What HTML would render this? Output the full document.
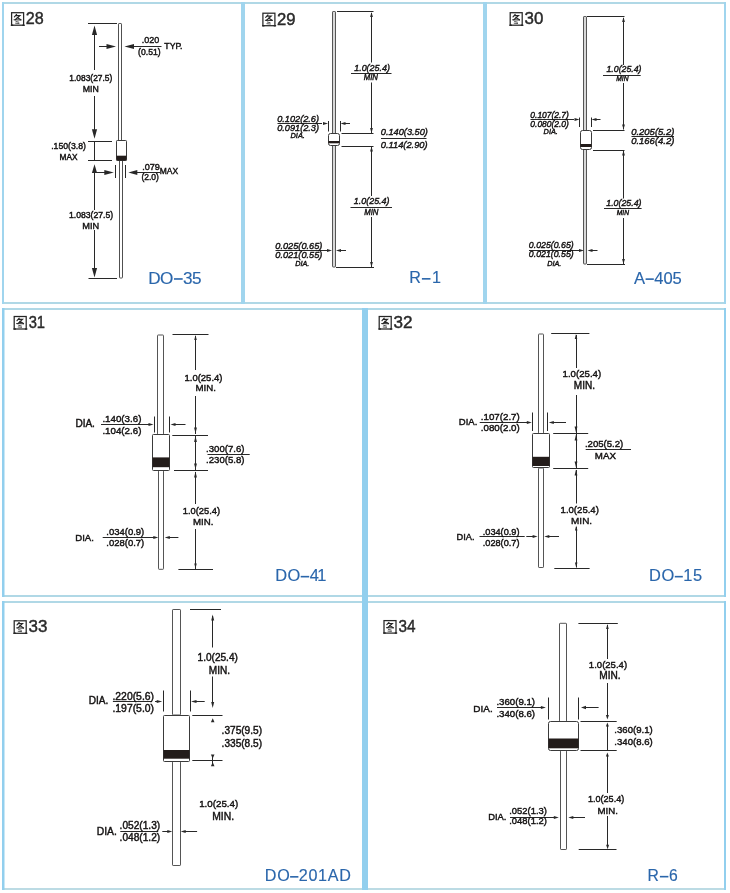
<!DOCTYPE html><html><head><meta charset="utf-8"><style>html,body{margin:0;padding:0;background:#fff;width:730px;height:893px;overflow:hidden}svg{display:block;font-family:"Liberation Sans",sans-serif;filter:blur(0.3px)}</style></head><body><svg width="730" height="893" viewBox="0 0 730 893" font-family="Liberation Sans, sans-serif">
<rect width="730" height="893" fill="#fff"/>
<rect x="2" y="2" width="724" height="2" fill="#b0d8e6"/>
<rect x="2" y="302" width="724" height="2" fill="#b0d8e6"/>
<rect x="2" y="2" width="2" height="302" fill="#a0d5ee"/>
<rect x="241" y="2" width="4" height="302" fill="#a0d5ee"/>
<rect x="483" y="2" width="4" height="302" fill="#a0d5ee"/>
<rect x="724" y="2" width="2" height="302" fill="#a0d5ee"/>
<rect x="2" y="308" width="724" height="2" fill="#b0d8e6"/>
<rect x="2" y="595" width="724" height="2" fill="#b0d8e6"/>
<rect x="2" y="308" width="2.5" height="289" fill="#92cfee"/>
<rect x="724" y="308" width="2" height="289" fill="#92cfee"/>
<rect x="2" y="601" width="724" height="2" fill="#b0d8e6"/>
<rect x="2" y="888" width="724" height="2" fill="#bcdbe4"/>
<rect x="2" y="601" width="2.5" height="289" fill="#92cfee"/>
<rect x="724" y="601" width="2" height="289" fill="#92cfee"/>
<rect x="362" y="308" width="6" height="582" fill="#92cfee"/>
<g transform="translate(11,12.2)" fill="none" stroke="#262626" stroke-linecap="round"><rect x="0.6" y="0.5" width="12" height="12.5" stroke-width="1.25"/><path d="M5.6 2.2 L3.4 4.6 M4.6 3.4 H8.9 L4.2 7.6 M6.1 5.3 L9.9 7.6" stroke-width="1.15"/><path d="M3 7.6 L10 7.8" stroke-width="1"/><path d="M5 9.3 L7.8 10 M4.6 11 L8 11.3" stroke-width="1" stroke="#555"/><path d="M0.4 13 h1.3 M11.9 13 h1.3" stroke-width="1.5"/></g>
<text x="25.79" y="24.30" font-size="16" textLength="17.91" lengthAdjust="spacingAndGlyphs" fill="#2a2a2a" stroke="#2a2a2a" stroke-width="0.42">28</text>
<rect x="118.5" y="23.5" width="3" height="118" fill="#fff" stroke="#505050" stroke-width="1" rx="0.6"/>
<rect x="119.5" y="159.5" width="3" height="118.5" fill="#fff" stroke="#505050" stroke-width="1" rx="0.6"/>
<rect x="116.5" y="140.5" width="10" height="20" fill="#fff" stroke="#3a3a3a" stroke-width="1" rx="0.8"/>
<rect x="116.5" y="155.7" width="10" height="4.800000000000011" fill="#231c1a"/>
<line x1="88" y1="23.5" x2="117" y2="23.5" stroke="#282828" stroke-width="1"/>
<line x1="94.5" y1="27" x2="94.5" y2="70" stroke="#282828" stroke-width="1"/>
<polygon points="94.50,25.50 91.90,35.00 97.10,35.00" fill="#282828"/>
<line x1="94.5" y1="96" x2="94.5" y2="131" stroke="#282828" stroke-width="1"/>
<polygon points="94.50,138.80 91.90,129.30 97.10,129.30" fill="#282828"/>
<line x1="88" y1="141.5" x2="112" y2="141.5" stroke="#282828" stroke-width="1"/>
<line x1="88" y1="160.5" x2="112" y2="160.5" stroke="#282828" stroke-width="1"/>
<line x1="94.5" y1="141.5" x2="94.5" y2="160.5" stroke="#282828" stroke-width="1"/>
<polygon points="94.50,164.30 91.90,173.10 97.10,173.10" fill="#282828"/>
<line x1="94.5" y1="170" x2="94.5" y2="210" stroke="#282828" stroke-width="1"/>
<line x1="94.5" y1="230" x2="94.5" y2="270" stroke="#282828" stroke-width="1"/>
<polygon points="94.50,277.50 91.90,268.00 97.10,268.00" fill="#282828"/>
<line x1="88.5" y1="278.5" x2="117" y2="278.5" stroke="#282828" stroke-width="1"/>
<line x1="94.5" y1="172.5" x2="106" y2="172.5" stroke="#282828" stroke-width="1"/>
<polygon points="113.80,172.50 104.30,169.90 104.30,175.10" fill="#282828"/>
<line x1="115.5" y1="165" x2="115.5" y2="178" stroke="#282828" stroke-width="1"/>
<line x1="125.5" y1="165" x2="125.5" y2="178" stroke="#282828" stroke-width="1"/>
<polygon points="128.30,172.50 137.30,169.90 137.30,175.10" fill="#282828"/>
<line x1="135" y1="172.5" x2="160" y2="172.5" stroke="#282828" stroke-width="1"/>
<line x1="99" y1="46.5" x2="108" y2="46.5" stroke="#282828" stroke-width="1"/>
<polygon points="116.00,46.50 106.50,43.90 106.50,49.10" fill="#282828"/>
<polygon points="124.50,46.50 134.00,43.90 134.00,49.10" fill="#282828"/>
<line x1="132" y1="46.5" x2="161.5" y2="46.5" stroke="#282828" stroke-width="1"/>
<text x="141.68" y="42.79" font-size="8.98" textLength="17.47" lengthAdjust="spacingAndGlyphs" fill="#141212" stroke="#141212" stroke-width="0.42">.020</text>
<text x="138.06" y="54.87" font-size="8.64" textLength="22.57" lengthAdjust="spacingAndGlyphs" fill="#141212" stroke="#141212" stroke-width="0.42">(0.51)</text>
<text x="164.32" y="48.62" font-size="8.2" textLength="18.23" lengthAdjust="spacingAndGlyphs" fill="#141212" stroke="#141212" stroke-width="0.42">TYP.</text>
<text x="69.36" y="80.99" font-size="8.4" textLength="42.96" lengthAdjust="spacingAndGlyphs" fill="#141212" stroke="#141212" stroke-width="0.42">1.083(27.5)</text>
<text x="82.68" y="92.01" font-size="8.75" textLength="16.03" lengthAdjust="spacingAndGlyphs" fill="#141212" stroke="#141212" stroke-width="0.42">MIN</text>
<text x="51.21" y="148.79" font-size="8.68" textLength="34.73" lengthAdjust="spacingAndGlyphs" fill="#141212" stroke="#141212" stroke-width="0.42">.150(3.8)</text>
<text x="59.52" y="160.05" font-size="8.29" textLength="17.95" lengthAdjust="spacingAndGlyphs" fill="#141212" stroke="#141212" stroke-width="0.42">MAX</text>
<text x="142.17" y="169.54" font-size="9.13" textLength="17.77" lengthAdjust="spacingAndGlyphs" fill="#141212" stroke="#141212" stroke-width="0.42">.079</text>
<text x="141.47" y="180.12" font-size="8.49" textLength="17.45" lengthAdjust="spacingAndGlyphs" fill="#141212" stroke="#141212" stroke-width="0.42">(2.0)</text>
<text x="159.80" y="173.92" font-size="8.48" textLength="18.37" lengthAdjust="spacingAndGlyphs" fill="#141212" stroke="#141212" stroke-width="0.42">MAX</text>
<text x="68.94" y="218.37" font-size="8.64" textLength="44.19" lengthAdjust="spacingAndGlyphs" fill="#141212" stroke="#141212" stroke-width="0.42">1.083(27.5)</text>
<text x="82.24" y="228.97" font-size="9.22" textLength="16.91" lengthAdjust="spacingAndGlyphs" fill="#141212" stroke="#141212" stroke-width="0.42">MIN</text>
<text x="148.22" y="283.50" font-size="17.14" textLength="25.18" lengthAdjust="spacing" fill="#2a66ab" stroke="#2a66ab" stroke-width="0.15">DO</text>
<text x="182.96" y="283.50" font-size="17.14" textLength="18.64" lengthAdjust="spacing" fill="#2a66ab" stroke="#2a66ab" stroke-width="0.15">35</text>
<rect x="174" y="278.17" width="8.70" height="1.6" fill="#2a66ab"/>
<g transform="translate(262.3,12.7)" fill="none" stroke="#262626" stroke-linecap="round"><rect x="0.6" y="0.5" width="12" height="12.5" stroke-width="1.25"/><path d="M5.6 2.2 L3.4 4.6 M4.6 3.4 H8.9 L4.2 7.6 M6.1 5.3 L9.9 7.6" stroke-width="1.15"/><path d="M3 7.6 L10 7.8" stroke-width="1"/><path d="M5 9.3 L7.8 10 M4.6 11 L8 11.3" stroke-width="1" stroke="#555"/><path d="M0.4 13 h1.3 M11.9 13 h1.3" stroke-width="1.5"/></g>
<text x="277.06" y="24.80" font-size="16" textLength="18.53" lengthAdjust="spacingAndGlyphs" fill="#2a2a2a" stroke="#2a2a2a" stroke-width="0.42">29</text>
<rect x="332.5" y="11.5" width="3" height="255.5" fill="#d8d8d8" stroke="#555" stroke-width="1" rx="0.6"/>
<rect x="328.5" y="133.5" width="11" height="12" fill="#fff" stroke="#3a3a3a" stroke-width="1" rx="2"/>
<rect x="328.5" y="141" width="11" height="2.3000000000000114" fill="#231c1a"/>
<line x1="337" y1="11.5" x2="373.5" y2="11.5" stroke="#282828" stroke-width="1"/>
<line x1="371.5" y1="13" x2="371.5" y2="62.5" stroke="#282828" stroke-width="1"/>
<line x1="371.5" y1="82.5" x2="371.5" y2="133" stroke="#282828" stroke-width="1"/>
<polygon points="371.50,12.00 370.10,17.00 372.90,17.00" fill="#282828"/>
<polygon points="371.50,133.00 370.10,128.00 372.90,128.00" fill="#282828"/>
<line x1="341.5" y1="133.5" x2="373.5" y2="133.5" stroke="#282828" stroke-width="1"/>
<line x1="341.5" y1="146.5" x2="373.5" y2="146.5" stroke="#282828" stroke-width="1"/>
<line x1="371.5" y1="147" x2="371.5" y2="196" stroke="#282828" stroke-width="1"/>
<line x1="371.5" y1="217" x2="371.5" y2="267" stroke="#282828" stroke-width="1"/>
<polygon points="371.50,146.50 370.10,151.50 372.90,151.50" fill="#282828"/>
<polygon points="371.50,267.00 370.10,262.00 372.90,262.00" fill="#282828"/>
<line x1="336" y1="267.5" x2="374" y2="267.5" stroke="#282828" stroke-width="1"/>
<line x1="277.5" y1="123.5" x2="322" y2="123.5" stroke="#282828" stroke-width="1"/>
<polygon points="328.00,123.50 323.00,122.00 323.00,125.00" fill="#282828"/>
<line x1="328.5" y1="121" x2="328.5" y2="131.5" stroke="#282828" stroke-width="1"/>
<line x1="340.5" y1="121" x2="340.5" y2="131.5" stroke="#282828" stroke-width="1"/>
<polygon points="340.50,123.50 345.50,122.00 345.50,125.00" fill="#282828"/>
<line x1="345" y1="123.5" x2="350" y2="123.5" stroke="#282828" stroke-width="1"/>
<line x1="275.5" y1="250.5" x2="327" y2="250.5" stroke="#282828" stroke-width="1"/>
<polygon points="332.00,250.50 327.00,249.00 327.00,252.00" fill="#282828"/>
<polygon points="336.00,250.50 341.00,249.00 341.00,252.00" fill="#282828"/>
<line x1="340" y1="250.5" x2="346" y2="250.5" stroke="#282828" stroke-width="1"/>
<line x1="381" y1="138.5" x2="426.5" y2="138.5" stroke="#282828" stroke-width="1"/>
<line x1="351" y1="73.5" x2="391.5" y2="73.5" stroke="#282828" stroke-width="1"/>
<line x1="350.5" y1="207.5" x2="392" y2="207.5" stroke="#282828" stroke-width="1"/>
<text x="354.17" y="70.84" font-size="9.41" textLength="35.87" lengthAdjust="spacingAndGlyphs" font-style="italic" fill="#141212" stroke="#141212" stroke-width="0.42">1.0(25.4)</text>
<text x="363.76" y="80.40" font-size="8.15" textLength="14.24" lengthAdjust="spacingAndGlyphs" font-style="italic" fill="#141212" stroke="#141212" stroke-width="0.42">MIN</text>
<text x="277.20" y="121.52" font-size="9.64" textLength="41.85" lengthAdjust="spacingAndGlyphs" font-style="italic" fill="#141212" stroke="#141212" stroke-width="0.42">0.102(2.6)</text>
<text x="277.20" y="131.12" font-size="9.64" textLength="41.85" lengthAdjust="spacingAndGlyphs" font-style="italic" fill="#141212" stroke="#141212" stroke-width="0.42">0.091(2.3)</text>
<text x="290.47" y="138.08" font-size="7.8" textLength="14.44" lengthAdjust="spacingAndGlyphs" font-style="italic" fill="#141212" stroke="#141212" stroke-width="0.42">DIA.</text>
<text x="380.80" y="134.72" font-size="9.66" textLength="47.05" lengthAdjust="spacingAndGlyphs" font-style="italic" fill="#141212" stroke="#141212" stroke-width="0.42">0.140(3.50)</text>
<text x="380.80" y="147.70" font-size="9.6" textLength="46.74" lengthAdjust="spacingAndGlyphs" font-style="italic" fill="#141212" stroke="#141212" stroke-width="0.42">0.114(2.90)</text>
<text x="353.77" y="204.43" font-size="9.38" textLength="35.76" lengthAdjust="spacingAndGlyphs" font-style="italic" fill="#141212" stroke="#141212" stroke-width="0.42">1.0(25.4)</text>
<text x="364.26" y="214.90" font-size="8.15" textLength="14.24" lengthAdjust="spacingAndGlyphs" font-style="italic" fill="#141212" stroke="#141212" stroke-width="0.42">MIN</text>
<text x="275.30" y="248.52" font-size="9.66" textLength="47.05" lengthAdjust="spacingAndGlyphs" font-style="italic" fill="#141212" stroke="#141212" stroke-width="0.42">0.025(0.65)</text>
<text x="275.30" y="257.62" font-size="9.66" textLength="47.05" lengthAdjust="spacingAndGlyphs" font-style="italic" fill="#141212" stroke="#141212" stroke-width="0.42">0.021(0.55)</text>
<text x="295.28" y="266.02" font-size="7.62" textLength="14.11" lengthAdjust="spacingAndGlyphs" font-style="italic" fill="#141212" stroke="#141212" stroke-width="0.42">DIA.</text>
<text x="409.27" y="283.10" font-size="16.14" textLength="11.68" lengthAdjust="spacing" fill="#2a66ab" stroke="#2a66ab" stroke-width="0.15">R</text>
<text x="432.12" y="283.10" font-size="16.14" textLength="5.68" lengthAdjust="spacing" fill="#2a66ab" stroke="#2a66ab" stroke-width="0.15">1</text>
<rect x="421.9" y="278.04" width="8.60" height="1.6" fill="#2a66ab"/>
<g transform="translate(509.6,12.2)" fill="none" stroke="#262626" stroke-linecap="round"><rect x="0.6" y="0.5" width="12" height="12.5" stroke-width="1.25"/><path d="M5.6 2.2 L3.4 4.6 M4.6 3.4 H8.9 L4.2 7.6 M6.1 5.3 L9.9 7.6" stroke-width="1.15"/><path d="M3 7.6 L10 7.8" stroke-width="1"/><path d="M5 9.3 L7.8 10 M4.6 11 L8 11.3" stroke-width="1" stroke="#555"/><path d="M0.4 13 h1.3 M11.9 13 h1.3" stroke-width="1.5"/></g>
<text x="524.56" y="24.30" font-size="16" textLength="18.80" lengthAdjust="spacingAndGlyphs" fill="#2a2a2a" stroke="#2a2a2a" stroke-width="0.42">30</text>
<rect x="583.5" y="16.5" width="3" height="247.5" fill="#d8d8d8" stroke="#555" stroke-width="1" rx="0.6"/>
<rect x="580.5" y="130.5" width="11" height="19" fill="#fff" stroke="#3a3a3a" stroke-width="1" rx="2"/>
<rect x="580.5" y="144" width="11" height="3" fill="#231c1a"/>
<line x1="587" y1="16.5" x2="624.5" y2="16.5" stroke="#282828" stroke-width="1"/>
<line x1="623.5" y1="18" x2="623.5" y2="65" stroke="#282828" stroke-width="1"/>
<line x1="623.5" y1="83" x2="623.5" y2="129.5" stroke="#282828" stroke-width="1"/>
<polygon points="623.50,17.00 622.10,22.00 624.90,22.00" fill="#282828"/>
<polygon points="623.50,129.50 622.10,124.50 624.90,124.50" fill="#282828"/>
<line x1="593" y1="130.5" x2="624.5" y2="130.5" stroke="#282828" stroke-width="1"/>
<line x1="593" y1="150.5" x2="624.5" y2="150.5" stroke="#282828" stroke-width="1"/>
<line x1="623.5" y1="151" x2="623.5" y2="198.5" stroke="#282828" stroke-width="1"/>
<line x1="623.5" y1="218" x2="623.5" y2="264" stroke="#282828" stroke-width="1"/>
<polygon points="623.50,150.50 622.10,155.50 624.90,155.50" fill="#282828"/>
<polygon points="623.50,264.00 622.10,259.00 624.90,259.00" fill="#282828"/>
<line x1="587" y1="264.5" x2="625" y2="264.5" stroke="#282828" stroke-width="1"/>
<line x1="530.5" y1="119.5" x2="574" y2="119.5" stroke="#282828" stroke-width="1"/>
<polygon points="579.50,119.50 574.50,118.00 574.50,121.00" fill="#282828"/>
<line x1="579.5" y1="117.5" x2="579.5" y2="127" stroke="#282828" stroke-width="1"/>
<line x1="591.5" y1="117.5" x2="591.5" y2="127" stroke="#282828" stroke-width="1"/>
<polygon points="591.50,119.50 596.50,118.00 596.50,121.00" fill="#282828"/>
<line x1="596" y1="119.5" x2="600.5" y2="119.5" stroke="#282828" stroke-width="1"/>
<line x1="529" y1="250.5" x2="579" y2="250.5" stroke="#282828" stroke-width="1"/>
<polygon points="584.00,250.50 579.00,249.00 579.00,252.00" fill="#282828"/>
<polygon points="587.50,250.50 592.50,249.00 592.50,252.00" fill="#282828"/>
<line x1="592" y1="250.5" x2="597.5" y2="250.5" stroke="#282828" stroke-width="1"/>
<line x1="631.5" y1="136.5" x2="674" y2="136.5" stroke="#282828" stroke-width="1"/>
<line x1="603" y1="75.5" x2="640.7" y2="75.5" stroke="#282828" stroke-width="1"/>
<line x1="604" y1="208.5" x2="641.6" y2="208.5" stroke="#282828" stroke-width="1"/>
<text x="606.47" y="72.26" font-size="9.19" textLength="35.05" lengthAdjust="spacingAndGlyphs" font-style="italic" fill="#141212" stroke="#141212" stroke-width="0.42">1.0(25.4)</text>
<text x="616.30" y="80.60" font-size="6.99" textLength="12.20" lengthAdjust="spacingAndGlyphs" font-style="italic" fill="#141212" stroke="#141212" stroke-width="0.42">MIN</text>
<text x="530.33" y="117.85" font-size="8.88" textLength="38.57" lengthAdjust="spacingAndGlyphs" font-style="italic" fill="#141212" stroke="#141212" stroke-width="0.42">0.107(2.7)</text>
<text x="530.33" y="126.65" font-size="8.88" textLength="38.57" lengthAdjust="spacingAndGlyphs" font-style="italic" fill="#141212" stroke="#141212" stroke-width="0.42">0.080(2.0)</text>
<text x="543.57" y="133.76" font-size="7.74" textLength="14.33" lengthAdjust="spacingAndGlyphs" font-style="italic" fill="#141212" stroke="#141212" stroke-width="0.42">DIA.</text>
<text x="631.19" y="134.52" font-size="9.94" textLength="43.18" lengthAdjust="spacingAndGlyphs" font-style="italic" fill="#141212" stroke="#141212" stroke-width="0.42">0.205(5.2)</text>
<text x="631.19" y="144.42" font-size="9.94" textLength="43.18" lengthAdjust="spacingAndGlyphs" font-style="italic" fill="#141212" stroke="#141212" stroke-width="0.42">0.166(4.2)</text>
<text x="606.27" y="205.78" font-size="9.25" textLength="35.25" lengthAdjust="spacingAndGlyphs" font-style="italic" fill="#141212" stroke="#141212" stroke-width="0.42">1.0(25.4)</text>
<text x="616.80" y="214.60" font-size="6.99" textLength="12.20" lengthAdjust="spacingAndGlyphs" font-style="italic" fill="#141212" stroke="#141212" stroke-width="0.42">MIN</text>
<text x="528.82" y="248.37" font-size="9.22" textLength="44.90" lengthAdjust="spacingAndGlyphs" font-style="italic" fill="#141212" stroke="#141212" stroke-width="0.42">0.025(0.65)</text>
<text x="528.82" y="257.47" font-size="9.22" textLength="44.90" lengthAdjust="spacingAndGlyphs" font-style="italic" fill="#141212" stroke="#141212" stroke-width="0.42">0.021(0.55)</text>
<text x="547.28" y="266.02" font-size="7.62" textLength="14.11" lengthAdjust="spacingAndGlyphs" font-style="italic" fill="#141212" stroke="#141212" stroke-width="0.42">DIA.</text>
<text x="634.07" y="283.50" font-size="16.57" textLength="10.16" lengthAdjust="spacing" fill="#2a66ab" stroke="#2a66ab" stroke-width="0.15">A</text>
<text x="654.32" y="283.50" font-size="16.57" textLength="27.47" lengthAdjust="spacing" fill="#2a66ab" stroke="#2a66ab" stroke-width="0.15">405</text>
<rect x="645.6" y="278.33" width="8.20" height="1.6" fill="#2a66ab"/>
<g transform="translate(13.6,316)" fill="none" stroke="#262626" stroke-linecap="round"><rect x="0.6" y="0.5" width="12" height="12.5" stroke-width="1.25"/><path d="M5.6 2.2 L3.4 4.6 M4.6 3.4 H8.9 L4.2 7.6 M6.1 5.3 L9.9 7.6" stroke-width="1.15"/><path d="M3 7.6 L10 7.8" stroke-width="1"/><path d="M5 9.3 L7.8 10 M4.6 11 L8 11.3" stroke-width="1" stroke="#555"/><path d="M0.4 13 h1.3 M11.9 13 h1.3" stroke-width="1.5"/></g>
<text x="28.64" y="328.10" font-size="16" textLength="16.38" lengthAdjust="spacingAndGlyphs" fill="#2a2a2a" stroke="#2a2a2a" stroke-width="0.42">31</text>
<rect x="157.5" y="335.0" width="6" height="99.5" fill="#fff" stroke="#555" stroke-width="1" rx="0.6"/>
<rect x="158.5" y="470.5" width="5" height="98.79999999999995" fill="#fff" stroke="#555" stroke-width="1" rx="0.6"/>
<rect x="152.5" y="434.5" width="17" height="36" fill="#fff" stroke="#3a3a3a" stroke-width="1" rx="0.9"/>
<rect x="152.5" y="457.4" width="17" height="9.800000000000011" fill="#231c1a"/>
<line x1="172.5" y1="334.5" x2="208.5" y2="334.5" stroke="#282828" stroke-width="1"/>
<line x1="195.5" y1="336" x2="195.5" y2="370" stroke="#282828" stroke-width="1"/>
<polygon points="195.50,335.00 194.25,340.00 196.75,340.00" fill="#282828"/>
<line x1="195.5" y1="396" x2="195.5" y2="434" stroke="#282828" stroke-width="1"/>
<polygon points="195.50,433.50 194.10,427.50 196.90,427.50" fill="#282828"/>
<line x1="172.3" y1="435.5" x2="208" y2="435.5" stroke="#282828" stroke-width="1"/>
<line x1="174" y1="470.5" x2="208" y2="470.5" stroke="#282828" stroke-width="1"/>
<line x1="195.5" y1="436" x2="195.5" y2="470" stroke="#282828" stroke-width="1"/>
<polygon points="195.50,436.00 194.10,442.00 196.90,442.00" fill="#282828"/>
<polygon points="195.50,469.50 194.10,463.50 196.90,463.50" fill="#282828"/>
<polygon points="195.50,471.50 194.10,477.50 196.90,477.50" fill="#282828"/>
<line x1="195.5" y1="472" x2="195.5" y2="504" stroke="#282828" stroke-width="1"/>
<line x1="195.5" y1="529" x2="195.5" y2="569" stroke="#282828" stroke-width="1"/>
<polygon points="195.50,568.50 194.25,563.50 196.75,563.50" fill="#282828"/>
<line x1="178.4" y1="569.5" x2="213" y2="569.5" stroke="#282828" stroke-width="1"/>
<line x1="101" y1="424.5" x2="150" y2="424.5" stroke="#282828" stroke-width="1"/>
<polygon points="153.50,424.50 148.50,423.00 148.50,426.00" fill="#282828"/>
<line x1="154.5" y1="416.5" x2="154.5" y2="432.5" stroke="#282828" stroke-width="1"/>
<line x1="169.5" y1="416.5" x2="169.5" y2="432.5" stroke="#282828" stroke-width="1"/>
<polygon points="170.50,424.50 175.50,423.00 175.50,426.00" fill="#282828"/>
<line x1="174" y1="424.5" x2="185.5" y2="424.5" stroke="#282828" stroke-width="1"/>
<line x1="207.5" y1="454.5" x2="249.7" y2="454.5" stroke="#282828" stroke-width="1"/>
<line x1="102.7" y1="537.5" x2="155" y2="537.5" stroke="#282828" stroke-width="1"/>
<polygon points="158.30,537.50 153.30,536.00 153.30,539.00" fill="#282828"/>
<polygon points="164.80,537.50 169.80,536.00 169.80,539.00" fill="#282828"/>
<line x1="168" y1="537.5" x2="178.4" y2="537.5" stroke="#282828" stroke-width="1"/>
<text x="184.48" y="380.87" font-size="9.5" textLength="38.01" lengthAdjust="spacingAndGlyphs" fill="#141212" stroke="#141212" stroke-width="0.42">1.0(25.4)</text>
<text x="195.40" y="391.34" font-size="9.7" textLength="20.48" lengthAdjust="spacingAndGlyphs" fill="#141212" stroke="#141212" stroke-width="0.42">MIN.</text>
<text x="75.38" y="426.56" font-size="10.05" textLength="19.54" lengthAdjust="spacingAndGlyphs" fill="#141212" stroke="#141212" stroke-width="0.42">DIA.</text>
<text x="102.41" y="422.45" font-size="9.74" textLength="38.99" lengthAdjust="spacingAndGlyphs" fill="#141212" stroke="#141212" stroke-width="0.42">.140(3.6)</text>
<text x="102.41" y="434.25" font-size="9.74" textLength="38.99" lengthAdjust="spacingAndGlyphs" fill="#141212" stroke="#141212" stroke-width="0.42">.104(2.6)</text>
<text x="206.12" y="452.10" font-size="9.59" textLength="38.37" lengthAdjust="spacingAndGlyphs" fill="#141212" stroke="#141212" stroke-width="0.42">.300(7.6)</text>
<text x="206.12" y="462.90" font-size="9.59" textLength="38.37" lengthAdjust="spacingAndGlyphs" fill="#141212" stroke="#141212" stroke-width="0.42">.230(5.8)</text>
<text x="182.79" y="514.11" font-size="9.32" textLength="37.29" lengthAdjust="spacingAndGlyphs" fill="#141212" stroke="#141212" stroke-width="0.42">1.0(25.4)</text>
<text x="193.01" y="524.52" font-size="9.65" textLength="20.37" lengthAdjust="spacingAndGlyphs" fill="#141212" stroke="#141212" stroke-width="0.42">MIN.</text>
<text x="75.21" y="541.10" font-size="9.6" textLength="18.66" lengthAdjust="spacingAndGlyphs" fill="#141212" stroke="#141212" stroke-width="0.42">DIA.</text>
<text x="106.33" y="534.66" font-size="9.48" textLength="37.95" lengthAdjust="spacingAndGlyphs" fill="#141212" stroke="#141212" stroke-width="0.42">.034(0.9)</text>
<text x="106.33" y="545.86" font-size="9.48" textLength="37.95" lengthAdjust="spacingAndGlyphs" fill="#141212" stroke="#141212" stroke-width="0.42">.028(0.7)</text>
<text x="275.34" y="581.00" font-size="16.43" textLength="24.85" lengthAdjust="spacing" fill="#2a66ab" stroke="#2a66ab" stroke-width="0.15">DO</text>
<text x="309.76" y="581.00" font-size="16.43" textLength="16.68" lengthAdjust="spacing" fill="#2a66ab" stroke="#2a66ab" stroke-width="0.15">41</text>
<rect x="300.7" y="575.86" width="8.50" height="1.6" fill="#2a66ab"/>
<g transform="translate(378.6,316)" fill="none" stroke="#262626" stroke-linecap="round"><rect x="0.6" y="0.5" width="12" height="12.5" stroke-width="1.25"/><path d="M5.6 2.2 L3.4 4.6 M4.6 3.4 H8.9 L4.2 7.6 M6.1 5.3 L9.9 7.6" stroke-width="1.15"/><path d="M3 7.6 L10 7.8" stroke-width="1"/><path d="M5 9.3 L7.8 10 M4.6 11 L8 11.3" stroke-width="1" stroke="#555"/><path d="M0.4 13 h1.3 M11.9 13 h1.3" stroke-width="1.5"/></g>
<text x="393.55" y="328.10" font-size="16" textLength="19.01" lengthAdjust="spacingAndGlyphs" fill="#2a2a2a" stroke="#2a2a2a" stroke-width="0.42">32</text>
<rect x="538.5" y="334.0" width="5" height="99.5" fill="#fff" stroke="#555" stroke-width="1" rx="0.6"/>
<rect x="538.5" y="468.0" width="5" height="99.5" fill="#fff" stroke="#555" stroke-width="1" rx="0.6"/>
<rect x="532.5" y="433.5" width="17" height="34" fill="#fff" stroke="#3a3a3a" stroke-width="1" rx="0.9"/>
<rect x="532.5" y="456.8" width="17" height="9.199999999999989" fill="#231c1a"/>
<line x1="551.2" y1="333.5" x2="589.4" y2="333.5" stroke="#282828" stroke-width="1"/>
<line x1="576.5" y1="335" x2="576.5" y2="368" stroke="#282828" stroke-width="1"/>
<polygon points="576.00,334.00 574.75,339.00 577.25,339.00" fill="#282828"/>
<line x1="576.5" y1="395" x2="576.5" y2="433" stroke="#282828" stroke-width="1"/>
<polygon points="576.00,432.50 574.60,426.50 577.40,426.50" fill="#282828"/>
<line x1="553.2" y1="433.5" x2="588.2" y2="433.5" stroke="#282828" stroke-width="1"/>
<line x1="553.2" y1="468.5" x2="588.2" y2="468.5" stroke="#282828" stroke-width="1"/>
<line x1="576.5" y1="434" x2="576.5" y2="468" stroke="#282828" stroke-width="1"/>
<polygon points="576.00,434.50 574.60,440.50 577.40,440.50" fill="#282828"/>
<polygon points="576.00,467.50 574.60,461.50 577.40,461.50" fill="#282828"/>
<polygon points="576.00,469.50 574.60,475.50 577.40,475.50" fill="#282828"/>
<line x1="576.5" y1="470" x2="576.5" y2="503.5" stroke="#282828" stroke-width="1"/>
<line x1="576.5" y1="527" x2="576.5" y2="567.5" stroke="#282828" stroke-width="1"/>
<polygon points="576.20,525.50 574.95,530.50 577.45,530.50" fill="#282828"/>
<polygon points="576.20,567.50 574.95,562.50 577.45,562.50" fill="#282828"/>
<line x1="554.3" y1="568.5" x2="589.6" y2="568.5" stroke="#282828" stroke-width="1"/>
<line x1="479.7" y1="422.5" x2="529" y2="422.5" stroke="#282828" stroke-width="1"/>
<polygon points="531.80,422.50 526.80,421.00 526.80,424.00" fill="#282828"/>
<line x1="532.5" y1="412.5" x2="532.5" y2="431" stroke="#282828" stroke-width="1"/>
<line x1="547.5" y1="412.5" x2="547.5" y2="431" stroke="#282828" stroke-width="1"/>
<polygon points="548.80,422.50 553.80,421.00 553.80,424.00" fill="#282828"/>
<line x1="552" y1="422.5" x2="566" y2="422.5" stroke="#282828" stroke-width="1"/>
<line x1="585.7" y1="449.5" x2="631" y2="449.5" stroke="#282828" stroke-width="1"/>
<line x1="479.5" y1="536.5" x2="524.7" y2="536.5" stroke="#282828" stroke-width="1"/>
<line x1="526.3" y1="536.5" x2="533" y2="536.5" stroke="#282828" stroke-width="1"/>
<polygon points="537.60,536.50 532.60,535.00 532.60,538.00" fill="#282828"/>
<polygon points="544.30,536.50 549.30,535.00 549.30,538.00" fill="#282828"/>
<line x1="548" y1="536.5" x2="559" y2="536.5" stroke="#282828" stroke-width="1"/>
<text x="562.56" y="377.32" font-size="9.65" textLength="38.63" lengthAdjust="spacingAndGlyphs" fill="#141212" stroke="#141212" stroke-width="0.42">1.0(25.4)</text>
<text x="573.87" y="388.86" font-size="10.06" textLength="21.24" lengthAdjust="spacingAndGlyphs" fill="#141212" stroke="#141212" stroke-width="0.42">MIN.</text>
<text x="458.82" y="425.18" font-size="9.54" textLength="18.55" lengthAdjust="spacingAndGlyphs" fill="#141212" stroke="#141212" stroke-width="0.42">DIA.</text>
<text x="480.81" y="420.15" font-size="9.74" textLength="38.99" lengthAdjust="spacingAndGlyphs" fill="#141212" stroke="#141212" stroke-width="0.42">.107(2.7)</text>
<text x="480.81" y="431.25" font-size="9.74" textLength="38.99" lengthAdjust="spacingAndGlyphs" fill="#141212" stroke="#141212" stroke-width="0.42">.080(2.0)</text>
<text x="584.92" y="447.30" font-size="9.59" textLength="38.37" lengthAdjust="spacingAndGlyphs" fill="#141212" stroke="#141212" stroke-width="0.42">.205(5.2)</text>
<text x="594.80" y="458.95" font-size="9.74" textLength="21.10" lengthAdjust="spacingAndGlyphs" fill="#141212" stroke="#141212" stroke-width="0.42">MAX</text>
<text x="560.57" y="513.19" font-size="9.57" textLength="38.32" lengthAdjust="spacingAndGlyphs" fill="#141212" stroke="#141212" stroke-width="0.42">1.0(25.4)</text>
<text x="571.08" y="523.83" font-size="9.96" textLength="21.03" lengthAdjust="spacingAndGlyphs" fill="#141212" stroke="#141212" stroke-width="0.42">MIN.</text>
<text x="456.54" y="539.59" font-size="9.26" textLength="18.00" lengthAdjust="spacingAndGlyphs" fill="#141212" stroke="#141212" stroke-width="0.42">DIA.</text>
<text x="482.76" y="534.85" font-size="9.17" textLength="36.71" lengthAdjust="spacingAndGlyphs" fill="#141212" stroke="#141212" stroke-width="0.42">.034(0.9)</text>
<text x="482.76" y="545.65" font-size="9.17" textLength="36.71" lengthAdjust="spacingAndGlyphs" fill="#141212" stroke="#141212" stroke-width="0.42">.028(0.7)</text>
<text x="648.91" y="581.00" font-size="16.43" textLength="25.40" lengthAdjust="spacing" fill="#2a66ab" stroke="#2a66ab" stroke-width="0.15">DO</text>
<text x="683.31" y="581.00" font-size="16.43" textLength="18.91" lengthAdjust="spacing" fill="#2a66ab" stroke="#2a66ab" stroke-width="0.15">15</text>
<rect x="674.8" y="575.86" width="8.00" height="1.6" fill="#2a66ab"/>
<g transform="translate(13.6,620.3)" fill="none" stroke="#262626" stroke-linecap="round"><rect x="0.6" y="0.5" width="12" height="12.5" stroke-width="1.25"/><path d="M5.6 2.2 L3.4 4.6 M4.6 3.4 H8.9 L4.2 7.6 M6.1 5.3 L9.9 7.6" stroke-width="1.15"/><path d="M3 7.6 L10 7.8" stroke-width="1"/><path d="M5 9.3 L7.8 10 M4.6 11 L8 11.3" stroke-width="1" stroke="#555"/><path d="M0.4 13 h1.3 M11.9 13 h1.3" stroke-width="1.5"/></g>
<text x="28.55" y="632.40" font-size="16" textLength="18.89" lengthAdjust="spacingAndGlyphs" fill="#2a2a2a" stroke="#2a2a2a" stroke-width="0.42">33</text>
<rect x="172.5" y="609.5" width="8" height="105.5" fill="#fff" stroke="#555" stroke-width="1" rx="0.6"/>
<rect x="172.5" y="761.5" width="8" height="104" fill="#fff" stroke="#555" stroke-width="1" rx="0.6"/>
<rect x="163.5" y="715.5" width="26" height="46" fill="#fff" stroke="#3a3a3a" stroke-width="1" rx="0.9"/>
<rect x="163.5" y="750" width="26" height="8.700000000000045" fill="#231c1a"/>
<line x1="190" y1="609.5" x2="221" y2="609.5" stroke="#282828" stroke-width="1"/>
<line x1="212.5" y1="616" x2="212.5" y2="647.5" stroke="#282828" stroke-width="1"/>
<polygon points="212.70,614.40 211.20,620.40 214.20,620.40" fill="#282828"/>
<line x1="212.5" y1="676.5" x2="212.5" y2="704" stroke="#282828" stroke-width="1"/>
<polygon points="212.70,708.00 211.20,702.00 214.20,702.00" fill="#282828"/>
<line x1="192.3" y1="715.5" x2="222.5" y2="715.5" stroke="#282828" stroke-width="1"/>
<line x1="192.3" y1="760.5" x2="222.5" y2="760.5" stroke="#282828" stroke-width="1"/>
<polygon points="212.70,718.30 210.90,722.30 214.50,722.30" fill="#282828"/>
<polygon points="212.70,758.50 210.90,754.50 214.50,754.50" fill="#282828"/>
<polygon points="212.70,762.30 210.90,766.30 214.50,766.30" fill="#282828"/>
<line x1="212.5" y1="755" x2="212.5" y2="766" stroke="#282828" stroke-width="1"/>
<line x1="112.9" y1="701.5" x2="152" y2="701.5" stroke="#282828" stroke-width="1"/>
<line x1="155" y1="701.5" x2="158" y2="701.5" stroke="#282828" stroke-width="1"/>
<polygon points="162.20,701.50 156.70,700.00 156.70,703.00" fill="#282828"/>
<line x1="163.5" y1="690.5" x2="163.5" y2="711.5" stroke="#282828" stroke-width="1"/>
<line x1="190.5" y1="690.5" x2="190.5" y2="711.5" stroke="#282828" stroke-width="1"/>
<polygon points="191.00,701.50 196.50,700.00 196.50,703.00" fill="#282828"/>
<line x1="195" y1="701.5" x2="204.7" y2="701.5" stroke="#282828" stroke-width="1"/>
<line x1="120.3" y1="831.5" x2="158.2" y2="831.5" stroke="#282828" stroke-width="1"/>
<line x1="162.3" y1="831.5" x2="168" y2="831.5" stroke="#282828" stroke-width="1"/>
<polygon points="172.30,831.50 167.30,830.00 167.30,833.00" fill="#282828"/>
<polygon points="180.70,831.50 185.70,830.00 185.70,833.00" fill="#282828"/>
<line x1="184" y1="831.5" x2="197.1" y2="831.5" stroke="#282828" stroke-width="1"/>
<text x="197.53" y="661.47" font-size="10.09" textLength="40.39" lengthAdjust="spacingAndGlyphs" fill="#141212" stroke="#141212" stroke-width="0.42">1.0(25.4)</text>
<text x="208.77" y="673.76" font-size="10.06" textLength="21.24" lengthAdjust="spacingAndGlyphs" fill="#141212" stroke="#141212" stroke-width="0.42">MIN.</text>
<text x="88.78" y="704.26" font-size="10.05" textLength="19.54" lengthAdjust="spacingAndGlyphs" fill="#141212" stroke="#141212" stroke-width="0.42">DIA.</text>
<text x="112.45" y="699.97" font-size="10.39" textLength="41.59" lengthAdjust="spacingAndGlyphs" fill="#141212" stroke="#141212" stroke-width="0.42">.220(5.6)</text>
<text x="112.45" y="711.77" font-size="10.39" textLength="41.59" lengthAdjust="spacingAndGlyphs" fill="#141212" stroke="#141212" stroke-width="0.42">.197(5.0)</text>
<text x="221.58" y="734.08" font-size="10.11" textLength="40.45" lengthAdjust="spacingAndGlyphs" fill="#141212" stroke="#141212" stroke-width="0.42">.375(9.5)</text>
<text x="221.58" y="747.28" font-size="10.11" textLength="40.45" lengthAdjust="spacingAndGlyphs" fill="#141212" stroke="#141212" stroke-width="0.42">.335(8.5)</text>
<text x="199.15" y="807.26" font-size="9.78" textLength="39.15" lengthAdjust="spacingAndGlyphs" fill="#141212" stroke="#141212" stroke-width="0.42">1.0(25.4)</text>
<text x="212.15" y="819.77" font-size="10.37" textLength="21.90" lengthAdjust="spacingAndGlyphs" fill="#141212" stroke="#141212" stroke-width="0.42">MIN.</text>
<text x="96.75" y="834.65" font-size="10.33" textLength="20.09" lengthAdjust="spacingAndGlyphs" fill="#141212" stroke="#141212" stroke-width="0.42">DIA.</text>
<text x="119.57" y="828.50" font-size="10.16" textLength="40.66" lengthAdjust="spacingAndGlyphs" fill="#141212" stroke="#141212" stroke-width="0.42">.052(1.3)</text>
<text x="119.57" y="840.60" font-size="10.16" textLength="40.66" lengthAdjust="spacingAndGlyphs" fill="#141212" stroke="#141212" stroke-width="0.42">.048(1.2)</text>
<text x="264.83" y="881.10" font-size="16.14" textLength="25.07" lengthAdjust="spacing" fill="#2a66ab" stroke="#2a66ab" stroke-width="0.15">DO</text>
<text x="298.85" y="881.10" font-size="16.14" textLength="51.97" lengthAdjust="spacing" fill="#2a66ab" stroke="#2a66ab" stroke-width="0.15">201AD</text>
<rect x="290.1" y="876.04" width="8.30" height="1.6" fill="#2a66ab"/>
<g transform="translate(383.4,620.1)" fill="none" stroke="#262626" stroke-linecap="round"><rect x="0.6" y="0.5" width="12" height="12.5" stroke-width="1.25"/><path d="M5.6 2.2 L3.4 4.6 M4.6 3.4 H8.9 L4.2 7.6 M6.1 5.3 L9.9 7.6" stroke-width="1.15"/><path d="M3 7.6 L10 7.8" stroke-width="1"/><path d="M5 9.3 L7.8 10 M4.6 11 L8 11.3" stroke-width="1" stroke="#555"/><path d="M0.4 13 h1.3 M11.9 13 h1.3" stroke-width="1.5"/></g>
<text x="398.42" y="632.20" font-size="16" textLength="17.03" lengthAdjust="spacingAndGlyphs" fill="#2a2a2a" stroke="#2a2a2a" stroke-width="0.42">34</text>
<rect x="559.5" y="623.3" width="7" height="98.20000000000005" fill="#fff" stroke="#555" stroke-width="1" rx="0.6"/>
<rect x="560.5" y="750.5" width="6" height="99" fill="#fff" stroke="#555" stroke-width="1" rx="0.6"/>
<rect x="548.5" y="721.5" width="30" height="29" fill="#fff" stroke="#3a3a3a" stroke-width="1" rx="2"/>
<rect x="548.5" y="738.5" width="30" height="9.799999999999955" fill="#231c1a"/>
<line x1="578.4" y1="623.5" x2="617.8" y2="623.5" stroke="#282828" stroke-width="1"/>
<line x1="607.5" y1="625" x2="607.5" y2="659" stroke="#282828" stroke-width="1"/>
<polygon points="607.40,624.00 606.10,629.00 608.70,629.00" fill="#282828"/>
<line x1="607.5" y1="683" x2="607.5" y2="716" stroke="#282828" stroke-width="1"/>
<polygon points="607.40,719.50 605.90,715.00 608.90,715.00" fill="#282828"/>
<line x1="580.5" y1="721.5" x2="616.7" y2="721.5" stroke="#282828" stroke-width="1"/>
<line x1="580.5" y1="750.5" x2="616.7" y2="750.5" stroke="#282828" stroke-width="1"/>
<line x1="607.5" y1="725" x2="607.5" y2="750" stroke="#282828" stroke-width="1"/>
<polygon points="607.40,722.50 605.90,726.50 608.90,726.50" fill="#282828"/>
<polygon points="607.40,752.50 605.90,756.50 608.90,756.50" fill="#282828"/>
<line x1="607.5" y1="756" x2="607.5" y2="793" stroke="#282828" stroke-width="1"/>
<line x1="607.5" y1="816" x2="607.5" y2="846" stroke="#282828" stroke-width="1"/>
<polygon points="607.60,849.30 606.10,844.80 609.10,844.80" fill="#282828"/>
<line x1="578.7" y1="849.5" x2="616.5" y2="849.5" stroke="#282828" stroke-width="1"/>
<line x1="497" y1="707.5" x2="541" y2="707.5" stroke="#282828" stroke-width="1"/>
<polygon points="545.90,707.50 540.90,706.00 540.90,709.00" fill="#282828"/>
<line x1="548.5" y1="697.5" x2="548.5" y2="719.5" stroke="#282828" stroke-width="1"/>
<line x1="578.5" y1="697.5" x2="578.5" y2="719.5" stroke="#282828" stroke-width="1"/>
<polygon points="581.00,707.50 586.00,705.75 586.00,709.25" fill="#282828"/>
<line x1="585" y1="707.5" x2="598.6" y2="707.5" stroke="#282828" stroke-width="1"/>
<line x1="510" y1="817.5" x2="555" y2="817.5" stroke="#282828" stroke-width="1"/>
<polygon points="558.80,817.50 553.80,816.00 553.80,819.00" fill="#282828"/>
<polygon points="568.30,817.50 573.30,816.00 573.30,819.00" fill="#282828"/>
<line x1="572" y1="817.5" x2="585" y2="817.5" stroke="#282828" stroke-width="1"/>
<text x="588.87" y="667.59" font-size="9.55" textLength="38.22" lengthAdjust="spacingAndGlyphs" fill="#141212" stroke="#141212" stroke-width="0.42">1.0(25.4)</text>
<text x="599.27" y="679.08" font-size="10.12" textLength="21.35" lengthAdjust="spacingAndGlyphs" fill="#141212" stroke="#141212" stroke-width="0.42">MIN.</text>
<text x="473.39" y="711.92" font-size="9.94" textLength="19.32" lengthAdjust="spacingAndGlyphs" fill="#141212" stroke="#141212" stroke-width="0.42">DIA.</text>
<text x="496.42" y="704.72" font-size="9.66" textLength="38.68" lengthAdjust="spacingAndGlyphs" fill="#141212" stroke="#141212" stroke-width="0.42">.360(9.1)</text>
<text x="496.42" y="716.82" font-size="9.66" textLength="38.68" lengthAdjust="spacingAndGlyphs" fill="#141212" stroke="#141212" stroke-width="0.42">.340(8.6)</text>
<text x="614.32" y="733.10" font-size="9.59" textLength="38.37" lengthAdjust="spacingAndGlyphs" fill="#141212" stroke="#141212" stroke-width="0.42">.360(9.1)</text>
<text x="614.32" y="745.20" font-size="9.59" textLength="38.37" lengthAdjust="spacingAndGlyphs" fill="#141212" stroke="#141212" stroke-width="0.42">.340(8.6)</text>
<text x="587.91" y="802.12" font-size="9.08" textLength="36.36" lengthAdjust="spacingAndGlyphs" fill="#141212" stroke="#141212" stroke-width="0.42">1.0(25.4)</text>
<text x="597.40" y="814.04" font-size="9.7" textLength="20.48" lengthAdjust="spacingAndGlyphs" fill="#141212" stroke="#141212" stroke-width="0.42">MIN.</text>
<text x="488.23" y="819.62" font-size="9.37" textLength="18.22" lengthAdjust="spacingAndGlyphs" fill="#141212" stroke="#141212" stroke-width="0.42">DIA.</text>
<text x="509.24" y="813.53" font-size="9.4" textLength="37.64" lengthAdjust="spacingAndGlyphs" fill="#141212" stroke="#141212" stroke-width="0.42">.052(1.3)</text>
<text x="509.24" y="824.13" font-size="9.4" textLength="37.64" lengthAdjust="spacingAndGlyphs" fill="#141212" stroke="#141212" stroke-width="0.42">.048(1.2)</text>
<text x="647.46" y="880.80" font-size="15.71" textLength="11.80" lengthAdjust="spacing" fill="#2a66ab" stroke="#2a66ab" stroke-width="0.15">R</text>
<text x="668.90" y="880.80" font-size="15.71" textLength="9.88" lengthAdjust="spacing" fill="#2a66ab" stroke="#2a66ab" stroke-width="0.15">6</text>
<rect x="659.9" y="875.86" width="8.50" height="1.6" fill="#2a66ab"/>
</svg></body></html>
